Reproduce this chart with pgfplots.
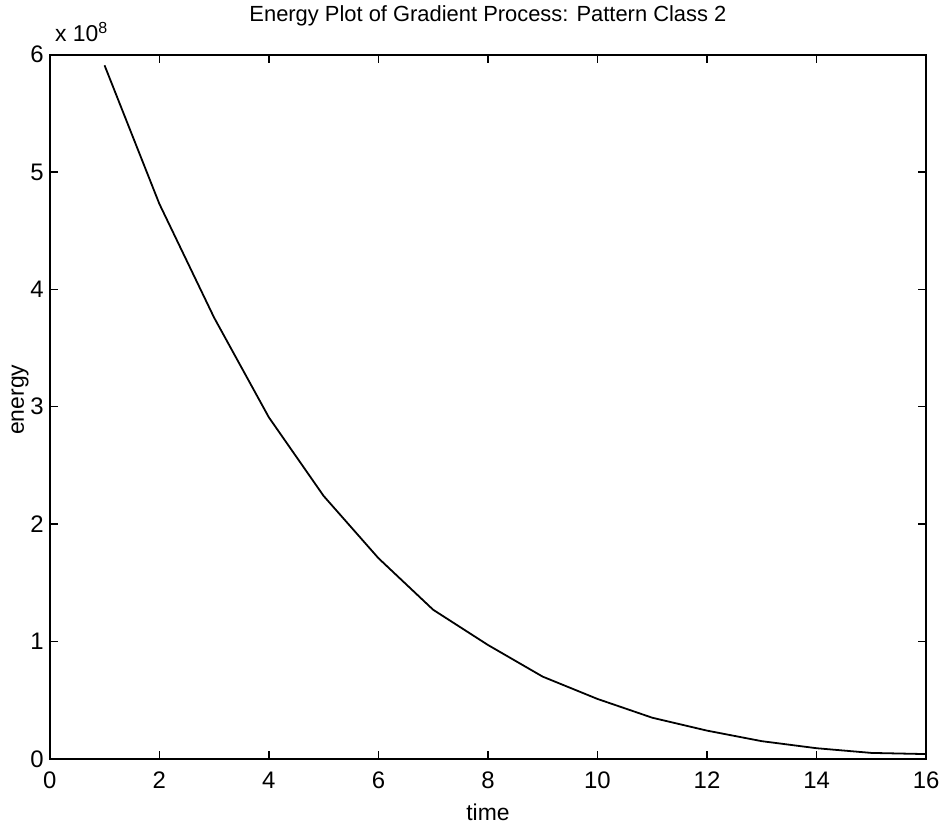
\documentclass[border=0pt]{standalone}
\usepackage{fontspec}
\setmainfont{Liberation Sans}
\usepackage{pgfplots}
\pgfplotsset{compat=1.18}
\begin{document}
\begin{tikzpicture}
\begin{axis}[
  at={(0,0)}, anchor=south west,
  width=440pt, height=353.5pt, scale only axis,
  xmin=0, xmax=16, ymin=0, ymax=6e8,
  xtick={0,2,...,16},
  ytick={0,1e8,2e8,3e8,4e8,5e8,6e8},
  scaled y ticks=base 10:-8,
  ytick scale label code/.code={x 10\textsuperscript{8}},
  every y tick scale label/.style={at={(axis description cs:0,1)},anchor=base west,xshift=2pt,yshift=6.5pt,inner sep=0pt,font=\fontsize{11.5}{13}\selectfont},
  tick align=inside,
  major tick length=4pt,
  axis line style={line width=0.8pt},
  tick style={line width=0.7pt, black},
  /pgf/number format/assume math mode=true,
  ticklabel style={font=\fontsize{12}{14}\selectfont},
  yticklabel style={/pgf/number format/fixed, xshift=0.5pt},
  xticklabel style={yshift=-3pt},
  title={Energy Plot of Gradient Process: Pattern Class 2},
  title style={at={(axis description cs:0.5,1)},anchor=base,yshift=10.5pt,font=\fontsize{11}{13}\selectfont,inner sep=0pt},
  xlabel={time}, ylabel={energy},
  xlabel style={at={(axis description cs:0.5,0)},anchor=base,yshift=-31pt,font=\fontsize{11.5}{13}\selectfont,inner sep=0pt},
  ylabel style={at={(axis description cs:-0.034,0.51)},anchor=center,font=\fontsize{11.5}{13}\selectfont,inner sep=0pt},
]
\addplot[black, line width=0.9pt, mark=none] coordinates {
  (1,5.91e8) (2,4.73e8) (3,3.76e8) (4,2.91e8) (5,2.24e8) (6,1.71e8)
  (7,1.27e8) (8,0.97e8) (9,0.70e8) (10,0.51e8) (11,0.35e8) (12,0.24e8)
  (13,0.15e8) (14,0.09e8) (15,0.05e8) (16,0.04e8)
};
\end{axis}
\path (-25pt,-33pt) rectangle (448pt,381pt);
\end{tikzpicture}
\end{document}
